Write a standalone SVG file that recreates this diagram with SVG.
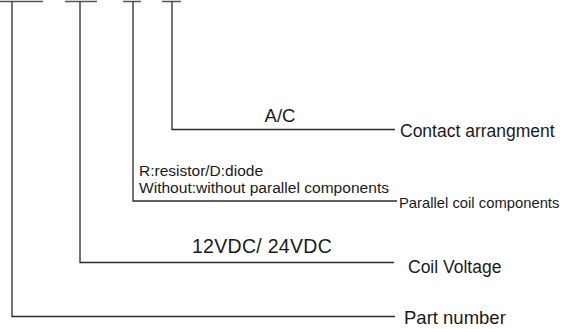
<svg xmlns="http://www.w3.org/2000/svg" width="565" height="329" viewBox="0 0 565 329">
<style>
.ln{stroke:#2b2b2b;stroke-width:1.3;fill:none}
.bar{stroke:#555;stroke-width:1.6;fill:none}
.t{font-family:"Liberation Sans",Arial,sans-serif;fill:#1a1a1a}
</style>
<rect width="565" height="329" fill="#fff"/>
<g id="connectors">
<path class="bar" d="M0 1.5H43M65 1.5H97M123 1.5H141M162 1.5H181"/>
<path class="ln" d="M12 1.5V316.5H395"/>
<path class="ln" d="M80 1.5V262.5H394"/>
<path class="ln" d="M133 1.5V201H397"/>
<path class="ln" d="M172 1.5V129.5H395"/>
</g>
<g id="contact">
<text class="t" x="280" y="122" font-size="18.5" text-anchor="middle">A/C</text>
<text class="t" x="400" y="137" font-size="17.5">Contact arrangment</text>
</g>
<g id="parallel">
<text class="t" x="139" y="176" font-size="15.5">R:resistor/D:diode</text>
<text class="t" x="139" y="193" font-size="15.5" textLength="250" lengthAdjust="spacingAndGlyphs">Without:without parallel components</text>
<text class="t" x="399" y="208" font-size="14.8">Parallel coil components</text>
</g>
<g id="voltage">
<text class="t" x="262" y="253" font-size="19.5" text-anchor="middle" letter-spacing="0.3">12VDC/ 24VDC</text>
<text class="t" x="408" y="273" font-size="17.5">Coil Voltage</text>
</g>
<g id="part">
<text class="t" x="404" y="324" font-size="18.5">Part number</text>
</g>
</svg>
